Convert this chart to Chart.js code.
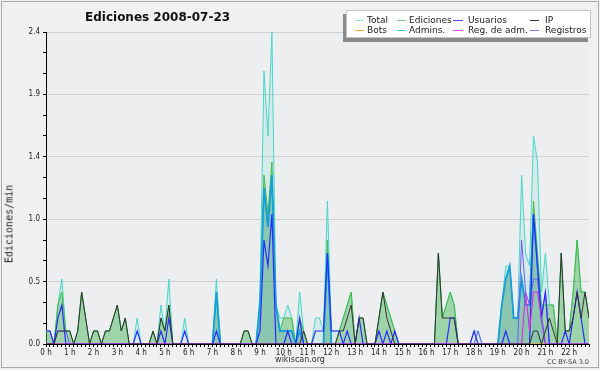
<!DOCTYPE html>
<html>
<head>
<meta charset="utf-8">
<title>Ediciones 2008-07-23</title>
<script src="https://cdn.jsdelivr.net/npm/chart.js@4"></script>
<style>
  body { margin: 0; background: #f0f0f0; }
  #wrap { position: relative; width: 600px; height: 370px; overflow: hidden; font-family: 'DejaVu Sans', sans-serif; color: #222; }
  #frame { position: absolute; left: 1px; top: 1px; width: 596px; height: 365px; border: 1px solid #a9a9a9; }
  #chart { position: absolute; left: 0; top: 0; }
  .txt { position: absolute; white-space: nowrap; }
  #title { left: 85px; top: 10px; font: bold 12px 'DejaVu Sans'; line-height: 14px; color: #111; }
  #ytitle { left: 9px; top: 224px; font: 10px 'DejaVu Sans Mono'; transform: translate(-50%, -50%) rotate(-90deg); }
  #site { left: 300px; top: 355px; font: 8px 'DejaVu Sans'; transform: translateX(-50%); color: #333; }
  #lic { right: 11px; top: 358px; font: 6.5px 'DejaVu Sans'; color: #444; }
  #legend { position: absolute; left: 346px; top: 10px; width: 243px; height: 26px; background: #fff; border: 1px solid #c4c4c4; box-shadow: -3px 4px 0 #8a8a8a; }
  .lg-line { position: absolute; height: 1px; width: 9px; }
  .lg-text { position: absolute; font: 9px 'DejaVu Sans'; line-height: 11px; white-space: nowrap; color: #222; }
</style>
</head>
<body>
<div id="wrap">
  <div id="frame"></div>
  <canvas id="chart" width="600" height="370"></canvas>
  <div class="txt" id="title">Ediciones 2008-07-23</div>
  <div class="txt" id="ytitle">Ediciones/min</div>
  <div class="txt" id="site">wikiscan.org</div>
  <div class="txt" id="lic">CC BY-SA 3.0</div>
  <div id="legend"></div>
</div>
<script>
// one value every 10 minutes, edits per minute (0:00 .. 22:50)
const TOTAL = [
  0.1, 0.1, 0, 0.3, 0.5, 0.1,   0.1, 0, 0.1, 0.4, 0.2, 0,
  0.1, 0.1, 0, 0.1, 0.1, 0.2,   0.3, 0.1, 0.2, 0, 0, 0.2,
  0, 0, 0, 0.1, 0, 0.3,         0.1, 0.5, 0, 0, 0, 0.2,
  0, 0, 0, 0, 0, 0,             0, 0.5, 0, 0, 0, 0,
  0, 0, 0.1, 0.1, 0, 0,         0.4, 2.1, 1.6, 2.4, 0.3, 0.2,
  0.2, 0.3, 0.2, 0, 0.4, 0.1,   0, 0, 0.2, 0.2, 0.1, 1.1,
  0.1, 0.1, 0.1, 0.2, 0.3, 0.4, 0, 0.2, 0.2, 0, 0, 0,
  0.2, 0.4, 0.3, 0.2, 0.1, 0,   0, 0, 0, 0, 0, 0,
  0, 0, 0, 0.7, 0.2, 0.3,       0.4, 0.3, 0, 0, 0, 0,
  0.1, 0.1, 0, 0, 0, 0,         0, 0.3, 0.6, 0.6, 0.2, 0.2,
  1.3, 0.7, 0.6, 1.6, 1.4, 0.4, 0.7, 0.3, 0.3, 0, 0.7, 0.1,
  0.1, 0.4, 0.8, 0.4, 0.4, 0.2
];
const EDICIONES = [
  0.1, 0.1, 0, 0.3, 0.4, 0.1,   0.1, 0, 0.1, 0.4, 0.2, 0,
  0.1, 0.1, 0, 0.1, 0.1, 0.2,   0.3, 0.1, 0.2, 0, 0, 0,
  0, 0, 0, 0.1, 0, 0.2,         0.1, 0.3, 0, 0, 0, 0,
  0, 0, 0, 0, 0, 0,             0, 0.4, 0, 0, 0, 0,
  0, 0, 0.1, 0.1, 0, 0,         0.3, 1.3, 1.0, 1.4, 0.3, 0.1,
  0.2, 0.2, 0.2, 0, 0.2, 0.1,   0, 0, 0, 0, 0, 0.8,
  0, 0, 0.1, 0.2, 0.3, 0.4,     0, 0.2, 0.2, 0, 0, 0,
  0.2, 0.4, 0.3, 0.2, 0.1, 0,   0, 0, 0, 0, 0, 0,
  0, 0, 0, 0.7, 0.2, 0.3,       0.4, 0.3, 0, 0, 0, 0,
  0, 0, 0, 0, 0, 0,             0, 0.3, 0.5, 0.6, 0.2, 0.2,
  0.5, 0.3, 0.3, 1.1, 0.7, 0.3, 0.3, 0.3, 0.3, 0, 0.7, 0.1,
  0.1, 0.4, 0.8, 0.4, 0.4, 0.2
];
const USUARIOS = [
  0.1, 0.1, 0, 0.2, 0.3, 0,     0, 0, 0, 0, 0, 0,
  0, 0, 0, 0, 0, 0,             0, 0, 0, 0, 0, 0.1,
  0, 0, 0, 0, 0, 0.1,           0, 0.2, 0, 0, 0, 0.1,
  0, 0, 0, 0, 0, 0,             0, 0.1, 0, 0, 0, 0,
  0, 0, 0, 0, 0, 0,             0.1, 0.8, 0.6, 1.0, 0, 0,
  0, 0.1, 0, 0, 0.2, 0,         0, 0, 0.1, 0.1, 0.1, 0.7,
  0.1, 0.1, 0.1, 0, 0.1, 0,     0, 0.2, 0, 0, 0, 0,
  0.1, 0, 0.1, 0, 0.1, 0,       0, 0, 0, 0, 0, 0,
  0, 0, 0, 0, 0, 0,             0.2, 0.2, 0, 0, 0, 0,
  0.1, 0, 0, 0, 0, 0,           0, 0, 0.1, 0, 0, 0,
  0, 0, 0, 1.0, 0.6, 0.2,       0.4, 0, 0, 0, 0, 0.1,
  0, 0.2, 0.4, 0.2, 0, 0
];
const IP = [
  0, 0, 0, 0.1, 0.1, 0.1,       0.1, 0, 0.1, 0.4, 0.2, 0,
  0.1, 0.1, 0, 0.1, 0.1, 0.2,   0.3, 0.1, 0.2, 0, 0, 0,
  0, 0, 0, 0.1, 0, 0.2,         0.1, 0.3, 0, 0, 0, 0,
  0, 0, 0, 0, 0, 0,             0, 0, 0, 0, 0, 0,
  0, 0, 0.1, 0.1, 0, 0,         0, 0, 0, 0, 0, 0,
  0, 0, 0, 0, 0, 0.1,           0, 0, 0, 0, 0, 0,
  0, 0, 0.1, 0.1, 0.2, 0.3,     0, 0.2, 0.2, 0, 0, 0,
  0.2, 0.4, 0.2, 0.1, 0, 0,     0, 0, 0, 0, 0, 0,
  0, 0, 0, 0.7, 0.2, 0.2,       0.2, 0.2, 0, 0, 0, 0,
  0, 0, 0, 0, 0, 0,             0, 0, 0, 0, 0, 0,
  0, 0, 0, 0.1, 0.1, 0,         0.1, 0.2, 0.1, 0, 0.7, 0.1,
  0.1, 0.2, 0.4, 0.2, 0.4, 0.2
];
const BOTS = TOTAL.map(() => 0);
const ADMINS = [
  0, 0, 0, 0, 0, 0,             0, 0, 0, 0, 0, 0,
  0, 0, 0, 0, 0, 0,             0, 0, 0, 0, 0, 0,
  0, 0, 0, 0, 0, 0,             0, 0, 0, 0, 0, 0,
  0, 0, 0, 0, 0, 0,             0, 0.4, 0, 0, 0, 0,
  0, 0, 0, 0, 0, 0,             0.3, 1.2, 0.9, 1.3, 0.3, 0.1,
  0.1, 0.1, 0.1, 0, 0.1, 0,     0, 0, 0, 0, 0, 0.7,
  0, 0, 0, 0, 0, 0,             0, 0, 0, 0, 0, 0,
  0, 0, 0, 0, 0, 0,             0, 0, 0, 0, 0, 0,
  0, 0, 0, 0, 0, 0,             0, 0, 0, 0, 0, 0,
  0, 0, 0, 0, 0, 0,             0, 0.3, 0.5, 0.6, 0.2, 0.2,
  0.5, 0.3, 0.3, 1.0, 0.6, 0.2, 0, 0, 0, 0, 0, 0,
  0, 0, 0, 0, 0, 0
];
const REG_ADM = [
  0, 0, 0, 0, 0, 0,             0, 0, 0, 0, 0, 0,
  0, 0, 0, 0, 0, 0,             0, 0, 0, 0, 0, 0,
  0, 0, 0, 0, 0, 0,             0, 0, 0, 0, 0, 0,
  0, 0, 0, 0, 0, 0,             0, 0, 0, 0, 0, 0,
  0, 0, 0, 0, 0, 0,             0, 0, 0, 0, 0, 0,
  0, 0, 0, 0, 0, 0,             0, 0, 0, 0, 0, 0,
  0, 0, 0, 0, 0, 0,             0, 0, 0, 0, 0, 0,
  0, 0, 0, 0, 0, 0,             0, 0, 0, 0, 0, 0,
  0, 0, 0, 0, 0, 0,             0, 0, 0, 0, 0, 0,
  0, 0, 0, 0, 0, 0,             0, 0, 0, 0, 0, 0,
  0, 0.4, 0.1, 0.4, 0.4, 0.2,   0, 0, 0, 0, 0, 0,
  0, 0, 0, 0, 0, 0
];
const REGISTROS = [
  0, 0, 0, 0.1, 0.1, 0.1,       0, 0, 0, 0, 0, 0,
  0, 0, 0, 0, 0, 0,             0, 0, 0, 0, 0, 0,
  0, 0, 0, 0, 0, 0,             0, 0, 0, 0, 0, 0,
  0, 0, 0, 0, 0, 0,             0, 0, 0, 0, 0, 0,
  0, 0, 0, 0, 0, 0,             0, 0, 0, 0, 0, 0,
  0, 0, 0, 0, 0, 0,             0, 0, 0, 0, 0, 0,
  0, 0, 0, 0, 0, 0,             0, 0, 0, 0, 0, 0,
  0, 0, 0, 0, 0, 0,             0, 0, 0, 0, 0, 0,
  0, 0, 0, 0, 0, 0,             0, 0, 0, 0, 0, 0,
  0, 0.1, 0, 0, 0, 0,           0, 0, 0, 0, 0, 0,
  0.8, 0.4, 0.3, 0.5, 0.5, 0.2, 0.4, 0, 0, 0, 0, 0,
  0, 0, 0, 0, 0, 0
];
const HOUR_LABELS = ['0 h','1 h','2 h','3 h','4 h','5 h','6 h','7 h','8 h','9 h','10 h','11 h',
  '12 h','13 h','14 h','15 h','16 h','17 h','18 h','19 h','20 h','21 h','22 h'];
const Y_MAX = 2.4;
const Y_STEP = 0.16;   // minor tick, a label every third one

// legend: [name, colour, column x, row]
const LEGEND = [
  ['Total', '#9fe6e0', 355, 0], ['Ediciones', '#7ccf7c', 397, 0], ['Usuarios', '#4747ff', 453, 0], ['IP', '#333333', 530, 0],
  ['Bots', '#ffa733', 355, 1], ['Admins.', '#3fd0e6', 397, 1], ['Reg. de adm.', '#e34be3', 453, 1], ['Registros', '#8080ff', 530, 1]
];

const legendBox = document.getElementById('legend');
LEGEND.forEach(([name, color, x, row]) => {
  const y = 9 + row * 10;
  const line = document.createElement('div');
  line.className = 'lg-line';
  line.style.left = (x - 347) + 'px';
  line.style.top = y + 'px';
  line.style.width = (name === 'Usuarios' || name === 'Reg. de adm.' ? 10 : 9) + 'px';
  line.style.background = color;
  legendBox.appendChild(line);
  const txt = document.createElement('div');
  txt.className = 'lg-text';
  txt.textContent = name;
  txt.style.left = (x - 347 + (x >= 453 ? 15 : 12)) + 'px';
  txt.style.top = (y - 5) + 'px';
  legendBox.appendChild(txt);
});

const plotBg = {
  id: 'plotBg',
  beforeDraw(chart) {
    const { ctx, chartArea: a } = chart;
    ctx.save();
    ctx.fillStyle = '#eceef0';
    ctx.fillRect(a.left, a.top, a.right - a.left, a.bottom - a.top);
    ctx.restore();
  }
};

function line(label, data, color, extra) {
  return Object.assign({
    label, data, borderColor: color, backgroundColor: color,
    borderWidth: 1, pointRadius: 0, tension: 0, fill: false
  }, extra || {});
}

const isMajor = v => Math.abs(v / (Y_STEP * 3) - Math.round(v / (Y_STEP * 3))) < 1e-6;

Chart.defaults.font.family = "'DejaVu Sans Condensed', 'DejaVu Sans', sans-serif";

// dataset 0 is painted last, so the list runs from top layer to bottom layer
new Chart(document.getElementById('chart'), {
  type: 'line',
  data: {
    labels: TOTAL.map((_, i) => i),
    datasets: [
      line('IP', IP, '#333333'),
      line('Reg. de adm.', REG_ADM, '#e020e0'),
      line('Usuarios', USUARIOS, '#2a2aff', { borderWidth: 1.2 }),
      line('Registros', REGISTROS, '#6a5cff'),
      line('Bots', BOTS, '#ff9900'),
      line('Admins.', ADMINS, '#159fdc', { borderWidth: 1.8, fill: 'origin', backgroundColor: 'rgba(30,120,220,0.15)' }),
      line('Ediciones', EDICIONES, '#44bb44', { fill: 'origin', backgroundColor: 'rgba(80,180,80,0.42)' }),
      line('Total', TOTAL, '#48d6ca', { fill: 'origin', backgroundColor: 'rgba(64,208,200,0.12)' })
    ]
  },
  options: {
    responsive: false,
    animation: false,
    events: [],
    layout: { padding: { top: 32, right: 11, bottom: 0, left: 0 } },
    plugins: { legend: { display: false }, tooltip: { enabled: false } },
    scales: {
      x: {
        type: 'linear', min: 0, max: TOTAL.length - 1, z: 1,
        afterFit: s => { s.height = 26; },
        border: { color: '#000' },
        grid: { drawOnChartArea: false, tickLength: 3, tickColor: '#000' },
        ticks: {
          stepSize: 1, autoSkip: false, maxRotation: 0, padding: 1, color: '#222', font: { size: 8 },
          callback: v => (v % 6 === 0 && HOUR_LABELS[v / 6]) ? HOUR_LABELS[v / 6] : ''
        }
      },
      y: {
        min: 0, max: Y_MAX,
        afterFit: s => { s.width = 46; },
        border: { color: '#000' },
        grid: {
          color: c => (c.tick && c.tick.value > 0 && isMajor(c.tick.value)) ? '#cfcfcf' : 'rgba(0,0,0,0)',
          tickColor: '#000', tickLength: 3
        },
        ticks: {
          stepSize: Y_STEP, autoSkip: false, padding: 3, color: '#222', font: { size: 8 },
          callback: v => isMajor(v) ? v.toFixed(1) : ''
        }
      }
    }
  },
  plugins: [plotBg]
});
</script>
</body>
</html>
